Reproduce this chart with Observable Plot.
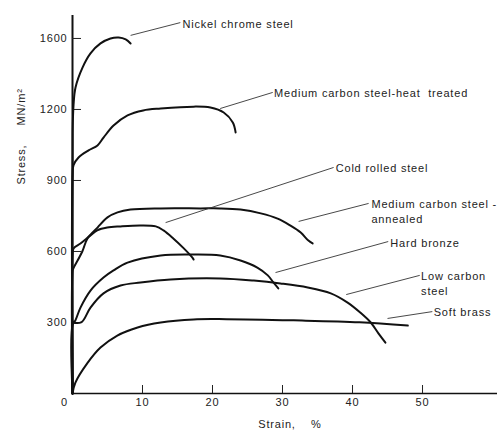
<!DOCTYPE html>
<html><head><meta charset="utf-8">
<script src="https://cdn.jsdelivr.net/npm/d3@7"></script>
<script src="https://cdn.jsdelivr.net/npm/@observablehq/plot@0.6"></script>
<style>
html,body{margin:0;padding:0;background:#fff;}
#chart svg{display:block;}
#chart svg text{letter-spacing:0.8px;}
</style></head><body><div id="chart"></div>
<script>
// ---- data (strain %, stress MN/m^2) ----
const seriesNames = ["Nickel chrome steel","Medium carbon steel-heat treated","Cold rolled steel","Medium carbon steel-annealed","Hard bronze","Low carbon steel","Soft brass"];

const strainNickel = [0, 0.02, 0.15, 0.43, 1.43, 2.57, 4.0, 5.43, 6.6, 7.6, 8.3];
const stressNickel = [0, 1100, 1220, 1293, 1377, 1437, 1479, 1500, 1504, 1496, 1479];

const strainHeat = [0, 0.02, 0.15, 0.86, 2.29, 3.57, 4.43, 5.86, 7.86, 10.1, 12.6, 17.3, 19.7, 21.6, 22.9, 23.3];
const stressHeat = [0, 930, 965, 997, 1027, 1048, 1081, 1132, 1175, 1196, 1204, 1212, 1208, 1187, 1145, 1103];

const strainCold = [0, 0.02, 0.15, 1.14, 2.57, 3.53, 4.96, 6.86, 9.71, 11.9, 13.0, 14.4, 15.9, 17.1, 17.3];
const stressCold = [0, 590, 613, 634, 668, 689, 701, 706, 710, 706, 689, 655, 613, 575, 566];

const strainAnneal = [0, 0.02, 0.1, 1.4, 2.14, 3.57, 5.0, 6.43, 8.29, 12.6, 18.3, 21.1, 24.0, 26.9, 29.3, 31.1, 32.6, 33.7, 34.3];
const stressAnneal = [0, 520, 527, 600, 655, 701, 744, 765, 777, 782, 782, 782, 777, 761, 739, 710, 680, 646, 634];

const strainBronze = [0, 0.02, 0.43, 1.14, 2.57, 4.43, 5.86, 7.86, 12.6, 17.3, 21.1, 24.0, 26.4, 27.9, 28.7, 29.4];
const stressBronze = [0, 290, 310, 363, 435, 490, 520, 553, 583, 587, 583, 562, 532, 499, 469, 444];

const strainLow = [0, 0.02, 0.15, 1.3, 2.57, 4.43, 6.86, 9.71, 14.0, 21.1, 25.9, 29.7, 33.6, 36.9, 39.3, 41.1, 42.6, 43.7, 44.7];
const stressLow = [0, 305, 300, 302, 363, 423, 456, 469, 482, 486, 477, 465, 448, 423, 384, 342, 300, 254, 215];

const strainBrass = [0, 0.4, 2.1, 4.0, 6.4, 9.3, 12.6, 17.3, 22.0, 31.6, 41.0, 47.9];
const stressBrass = [0, 45, 127, 194, 245, 279, 300, 313, 314, 309, 301, 287];

// tick values and labels as printed
const xTickValues = [10, 20, 30, 40, 50];
const xZeroLabel = [0];
const yTickValues = [300, 600, 900, 1200, 1500];
const yTickLabels = ["300", "600", "900", "1200", "1600"];

// annotation labels (anchor on curve -> text start), in data units
const labelTexts = ["Nickel chrome steel", "Medium carbon steel-heat\u00a0\u00a0treated", "Cold rolled steel", "Medium carbon steel -\nannealed", "Hard bronze", "Low carbon\nsteel", "Soft brass"];
const leaderX1 = [8.3, 21.1, 13.3, 32.3, 29.0, 39.1, 45.0];
const leaderY1 = [1513, 1204, 722, 727, 511, 418, 317];
const leaderX2 = [15.4, 28.6, 37.3, 42.3, 45.1, 49.6, 51.4];
const leaderY2 = [1567, 1272, 955, 803, 642, 499, 346];
const labelX = [15.7, 28.8, 37.6, 42.7, 45.4, 49.8, 51.6];
const labelY = [1563, 1272, 955, 771, 638, 467, 346];

// ---- build tables ----
const strains = [strainNickel, strainHeat, strainCold, strainAnneal, strainBronze, strainLow, strainBrass];
const stresses = [stressNickel, stressHeat, stressCold, stressAnneal, stressBronze, stressLow, stressBrass];
const curves = [];
seriesNames.forEach((name, k) => {
  strains[k].forEach((s, i) => curves.push({series: name, strain: s, stress: stresses[k][i]}));
});
const leaders = labelTexts.map((t, i) => ({x1: leaderX1[i], y1: leaderY1[i], x2: leaderX2[i], y2: leaderY2[i]}));
const labels = labelTexts.map((t, i) => ({text: t, x: labelX[i], y: labelY[i]}));

const W = 498, H = 433, mL = 72, mR = 1, mT = 15, mB = 40;
const frameW = W - mL - mR, frameH = H - mT - mB;

const chart = Plot.plot({
  width: W, height: H,
  marginLeft: mL, marginRight: mR, marginTop: mT, marginBottom: mB,
  style: {fontFamily: "'Liberation Sans', Arial, sans-serif", fontSize: "11px", color: "#222", background: "#fff"},
  x: {domain: [0, 60.71]},
  y: {domain: [0, 1597]},
  marks: [
    Plot.ruleX([0], {stroke: "#111", strokeWidth: 2}),
    Plot.ruleY([0], {stroke: "#111", strokeWidth: 1.6}),
    Plot.tickY(yTickValues, {y: d => d, stroke: "#222", strokeWidth: 1, insetRight: frameW - 9}),
    Plot.tickX(xTickValues, {x: d => d, stroke: "#222", strokeWidth: 1, insetTop: frameH - 8}),
    Plot.axisX(xTickValues, {tickSize: 0, tickPadding: 5, label: null, fill: "#222"}),
    Plot.axisX(xZeroLabel, {tickSize: 0, tickPadding: 5, label: null, dx: -8, fill: "#222"}),
    Plot.axisY(yTickValues, {tickSize: 0, tickPadding: 5, label: null, fill: "#222",
      tickFormat: d => yTickLabels[yTickValues.indexOf(d)]}),
    Plot.line(curves, {x: "strain", y: "stress", z: "series", curve: "catmull-rom", stroke: "#111", strokeWidth: 2}),
    Plot.link(leaders, {x1: "x1", y1: "y1", x2: "x2", y2: "y2", stroke: "#333", strokeWidth: 0.9}),
    Plot.text(labels, {x: "x", y: "y", text: "text", textAnchor: "start", lineHeight: 1.36, fill: "#222"}),
    Plot.text(["Strain,\u00a0\u00a0\u00a0\u00a0%"], {frameAnchor: "bottom", dx: 5, dy: 34, fill: "#222"}),
    Plot.text(["Stress,\u00a0\u00a0\u00a0\u00a0\u00a0MN/m\u00b2"], {frameAnchor: "left", rotate: -90, dx: -51, dy: -20, fill: "#222"})
  ]
});
document.getElementById("chart").appendChild(chart);
</script></body></html>
